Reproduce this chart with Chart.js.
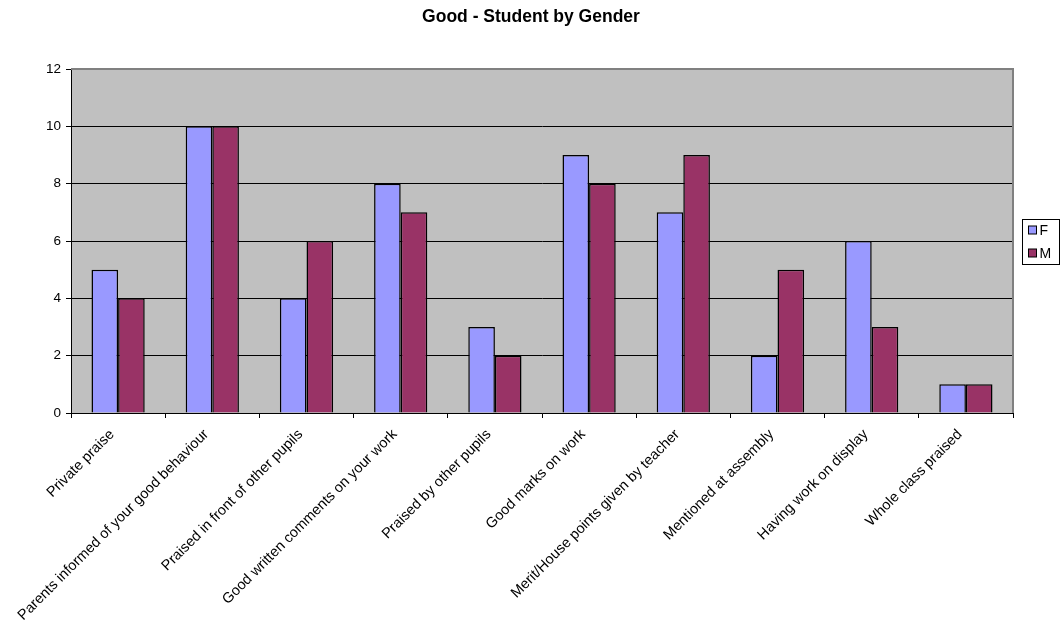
<!DOCTYPE html>
<html>
<head>
<meta charset="utf-8">
<title>Good - Student by Gender</title>
<script src="https://cdn.jsdelivr.net/npm/chart.js@4/dist/chart.umd.min.js"></script>
<style>
  html, body { margin: 0; padding: 0; background: #ffffff; }
  #wrap { width: 1062px; height: 628px; position: relative; }
</style>
</head>
<body>
<div id="wrap"><canvas id="chart" width="1062" height="628"></canvas></div>
<script>
// Categories and counts per gender
const categories = [
  'Private praise',
  'Parents informed of your good behaviour',
  'Praised in front of other pupils',
  'Good written comments on your work',
  'Praised by other pupils',
  'Good marks on work',
  'Merit/House points given by teacher',
  'Mentioned at assembly',
  'Having work on display',
  'Whole class praised'
];
const femaleValues = [5, 10, 4, 8, 3, 9, 7, 2, 6, 1];
const maleValues   = [4, 10, 6, 7, 2, 8, 9, 5, 3, 1];
const yTicks = [0, 2, 4, 6, 8, 10, 12];
const chartTitle = 'Good - Student by Gender';

const FONT = '"Liberation Sans", Arial, sans-serif';

// Grey plot background with a darker frame on the top and right
const plotBackground = {
  id: 'plotBackground',
  beforeDraw(chart) {
    const { ctx, chartArea: a } = chart;
    ctx.save();
    ctx.fillStyle = '#c0c0c0';
    ctx.fillRect(a.left, a.top, a.right - a.left, a.bottom - a.top);
    ctx.restore();
  },
  afterDatasetsDraw(chart) {
    const { ctx, chartArea: a } = chart;
    ctx.save();
    ctx.strokeStyle = '#808080';
    ctx.lineWidth = 2;
    ctx.beginPath();
    ctx.moveTo(a.left, a.top);
    ctx.lineTo(a.right, a.top);
    ctx.lineTo(a.right, a.bottom);
    ctx.stroke();
    ctx.restore();
  }
};

// Title centred across the whole canvas
const canvasTitle = {
  id: 'canvasTitle',
  afterDraw(chart) {
    const { ctx, width } = chart;
    ctx.save();
    ctx.font = 'bold 17.5px ' + FONT;
    ctx.fillStyle = '#000000';
    ctx.textAlign = 'center';
    ctx.textBaseline = 'middle';
    ctx.fillText(chartTitle, width / 2, 17);
    ctx.restore();
  }
};

// Boxed legend at the right of the plot
const boxedLegend = {
  id: 'boxedLegend',
  afterDraw(chart) {
    const { ctx } = chart;
    const x = 1022.5, y = 219.5, w = 37, h = 45;
    ctx.save();
    ctx.fillStyle = '#ffffff';
    ctx.fillRect(x, y, w, h);
    ctx.strokeStyle = '#000000';
    ctx.lineWidth = 1;
    ctx.strokeRect(x, y, w, h);
    ctx.font = '14px ' + FONT;
    ctx.textBaseline = 'middle';
    chart.data.datasets.forEach((ds, i) => {
      const cy = 230 + i * 23;
      ctx.fillStyle = ds.backgroundColor;
      ctx.fillRect(x + 6, cy - 4, 8, 8);
      ctx.strokeRect(x + 6, cy - 4, 8, 8);
      ctx.fillStyle = '#000000';
      ctx.fillText(ds.label, x + 17, cy + 1);
    });
    ctx.restore();
  }
};

new Chart(document.getElementById('chart'), {
  type: 'bar',
  data: {
    labels: categories,
    datasets: [
      { label: 'F', data: femaleValues, backgroundColor: '#9999ff', borderColor: '#000000', borderWidth: 1.5 },
      { label: 'M', data: maleValues,   backgroundColor: '#993366', borderColor: '#000000', borderWidth: 1.5 }
    ]
  },
  options: {
    responsive: false,
    animation: false,
    devicePixelRatio: 1,
    layout: { padding: { left: 0, right: 49, top: 69, bottom: 0 } },
    datasets: { bar: { categoryPercentage: 0.565, barPercentage: 1.0 } },
    plugins: {
      legend: { display: false },
      tooltip: { enabled: false },
      title: { display: false }
    },
    scales: {
      x: {
        offset: true,
        afterFit(scale) { scale.height = 215; },
        grid: {
          offset: true,
          drawOnChartArea: false,
          drawTicks: true,
          tickLength: 5,
          color: '#000000'
        },
        border: { display: true, color: '#000000', width: 1 },
        ticks: {
          autoSkip: false,
          maxRotation: 45,
          minRotation: 45,
          padding: 8,
          labelOffset: -6,
          color: '#000000',
          font: { family: FONT, size: 14.5 }
        }
      },
      y: {
        min: 0,
        max: 12,
        afterFit(scale) { scale.width = 71; },
        afterBuildTicks(scale) { scale.ticks = yTicks.map(v => ({ value: v })); },
        grid: {
          color: '#000000',
          lineWidth: 1,
          drawTicks: true,
          tickLength: 5
        },
        border: { display: true, color: '#000000', width: 1 },
        ticks: {
          padding: 5,
          color: '#000000',
          font: { family: FONT, size: 13.5 }
        }
      }
    }
  },
  plugins: [plotBackground, canvasTitle, boxedLegend]
});
</script>
</body>
</html>
